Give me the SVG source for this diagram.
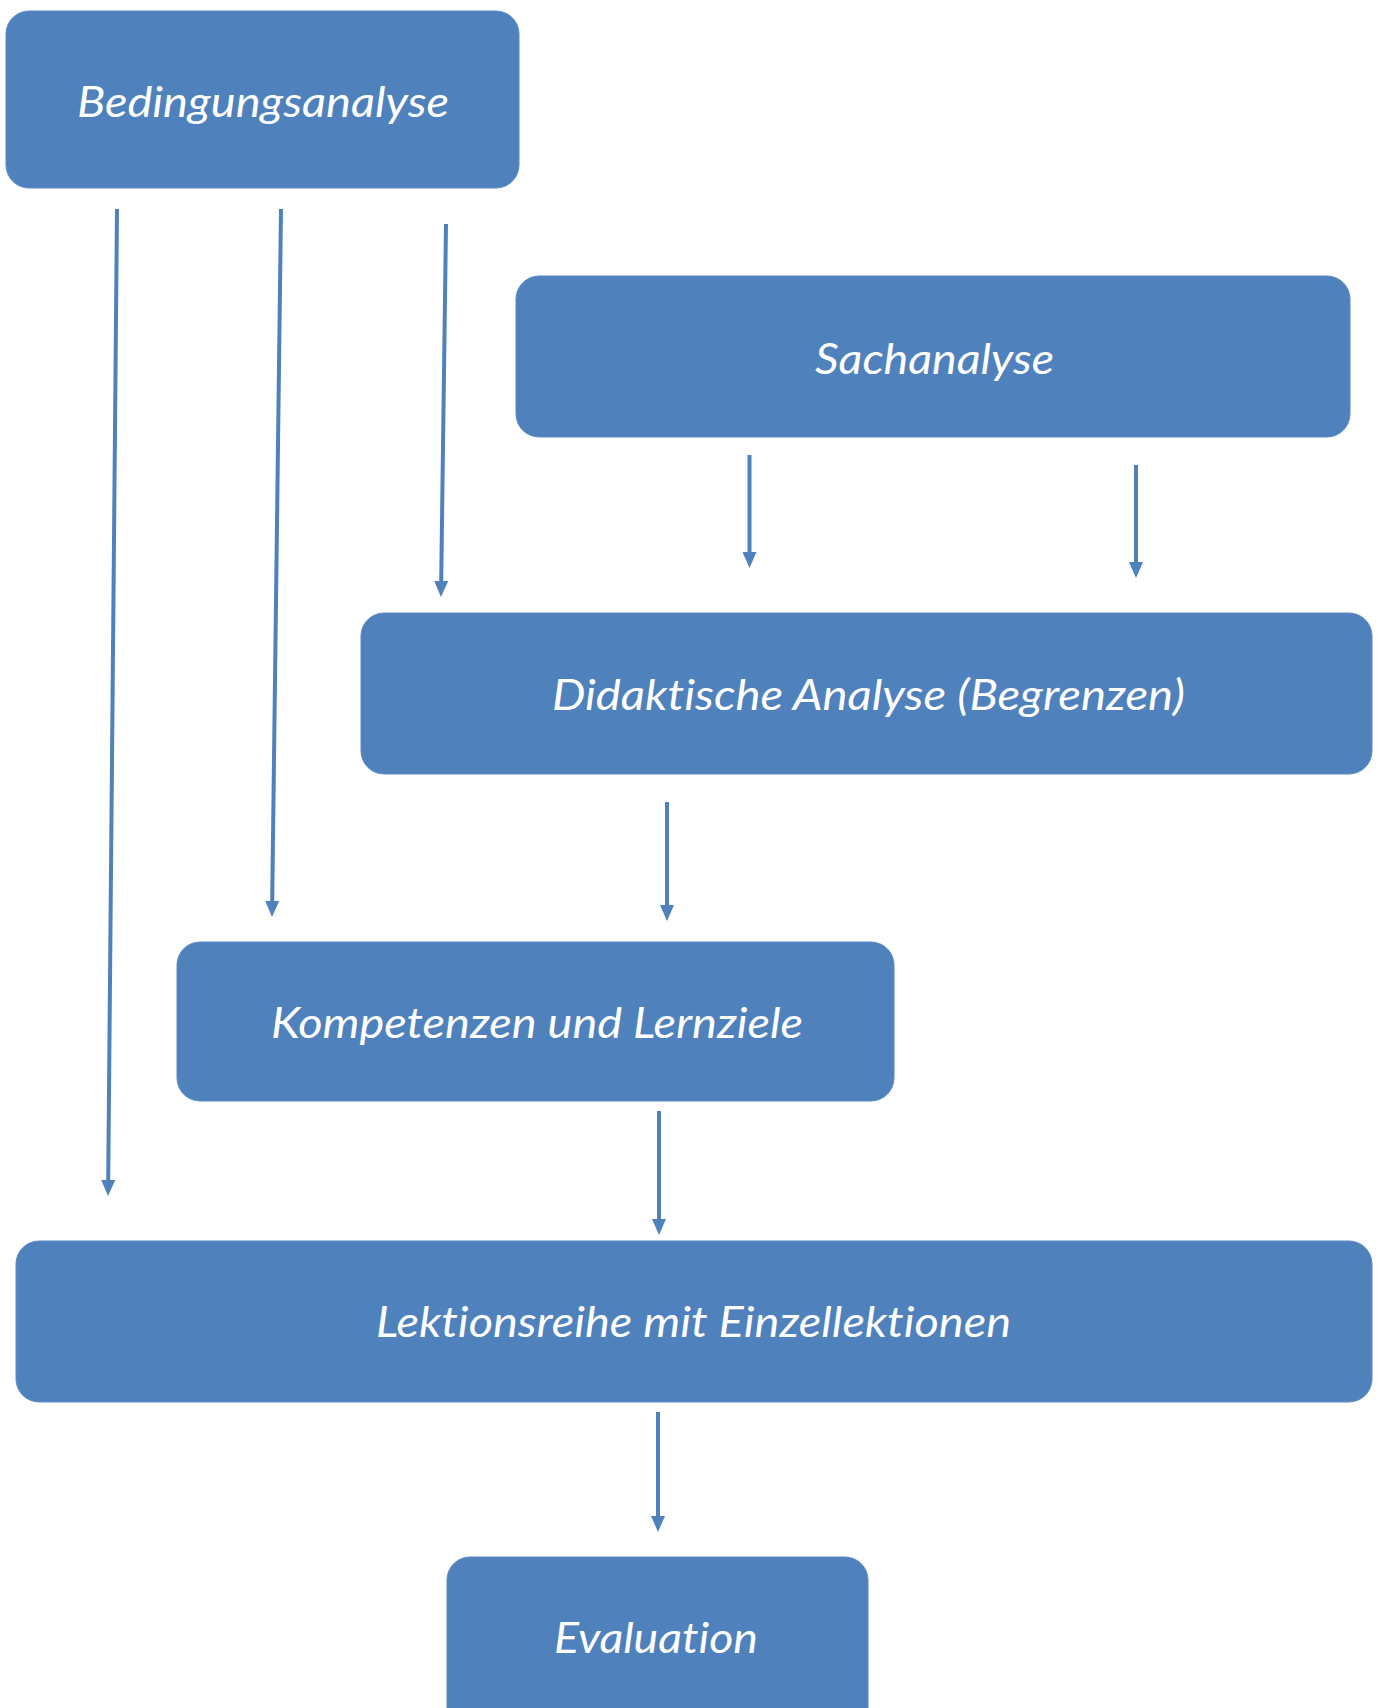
<svg xmlns="http://www.w3.org/2000/svg" width="1380" height="1708" viewBox="0 0 1380 1708">
<defs>
<style>
.box{fill:#4F81BD;stroke:#5A8AC4;stroke-width:1}
.lbl{fill:#FFFFFF;font-family:Lato,"Open Sans","Liberation Sans",sans-serif;font-style:italic;font-size:43px;font-variant-ligatures:none;font-feature-settings:"liga" 0,"clig" 0}
.con{stroke:#4F81BD;stroke-width:4;fill:none;marker-end:url(#ah)}
</style>
<marker id="ah" viewBox="0 0 16 14" refX="0" refY="7" markerWidth="16" markerHeight="14" markerUnits="userSpaceOnUse" orient="auto">
<path d="M0,0 L16,7 L0,14 z" fill="#4F81BD"/>
</marker>
</defs>
<rect width="1380" height="1708" fill="#FFFFFF"/>
<g id="connectors">
<line class="con" x1="117" y1="209" x2="108.2" y2="1180"/>
<line class="con" x1="281" y1="209" x2="272.2" y2="901"/>
<line class="con" x1="446" y1="224" x2="441.2" y2="581"/>
<line class="con" x1="749.5" y1="455" x2="749.5" y2="552"/>
<line class="con" x1="1136" y1="465" x2="1136" y2="562"/>
<line class="con" x1="667" y1="802" x2="667" y2="905"/>
<line class="con" x1="659" y1="1111" x2="659" y2="1219"/>
<line class="con" x1="658" y1="1412" x2="658" y2="1516"/>
</g>
<g id="bedingungsanalyse">
<rect class="box" x="6" y="11" width="513" height="177" rx="23" ry="23"/>
<text class="lbl" x="77" y="117" textLength="372" lengthAdjust="spacingAndGlyphs">Bedingungsanalyse</text>
</g>
<g id="sachanalyse">
<rect class="box" x="516" y="276" width="834" height="161" rx="23" ry="23"/>
<text class="lbl" x="815" y="374" textLength="239" lengthAdjust="spacingAndGlyphs">Sachanalyse</text>
</g>
<g id="didaktische-analyse">
<rect class="box" x="361" y="613" width="1011" height="161" rx="23" ry="23"/>
<text class="lbl" x="552" y="710" textLength="633" lengthAdjust="spacingAndGlyphs">Didaktische Analyse (Begrenzen)</text>
</g>
<g id="kompetenzen">
<rect class="box" x="177" y="942" width="717" height="159" rx="23" ry="23"/>
<text class="lbl" x="271" y="1038" textLength="532" lengthAdjust="spacingAndGlyphs">Kompetenzen und Lernziele</text>
</g>
<g id="lektionsreihe">
<rect class="box" x="16" y="1241" width="1356" height="161" rx="23" ry="23"/>
<text class="lbl" x="376" y="1337" textLength="635" lengthAdjust="spacingAndGlyphs">Lektionsreihe mit Einzellektionen</text>
</g>
<g id="evaluation">
<rect class="box" x="447" y="1557" width="421" height="200" rx="23" ry="23"/>
<text class="lbl" x="554" y="1653" textLength="204" lengthAdjust="spacingAndGlyphs">Evaluation</text>
</g>
</svg>
